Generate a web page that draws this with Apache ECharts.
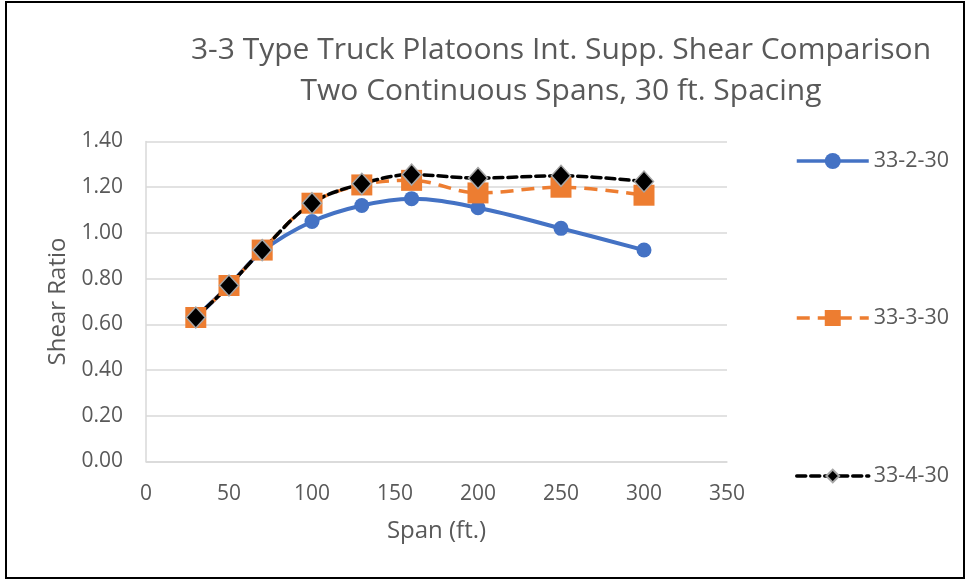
<!DOCTYPE html>
<html>
<head>
<meta charset="utf-8">
<script src="https://cdn.jsdelivr.net/npm/echarts@6/dist/echarts.min.js"></script>
<style>
  html, body { margin: 0; padding: 0; background: #fff; }
  #chart { width: 967px; height: 581px; }
</style>
</head>
<body>
<div id="chart"></div>
<script>
// Span lengths (ft.)
const spans = [30, 50, 70, 100, 130, 160, 200, 250, 300];

// Shear ratios for each platoon configuration
const s33_2_30 = [0.63, 0.77, 0.92, 1.05, 1.12, 1.15, 1.11, 1.02, 0.925];
const s33_3_30 = [0.63, 0.77, 0.925, 1.13, 1.21, 1.23, 1.175, 1.20, 1.165];
const s33_4_30 = [0.63, 0.77, 0.925, 1.13, 1.215, 1.255, 1.24, 1.25, 1.225];

const seriesNames = ['33-2-30', '33-3-30', '33-4-30'];
const titleLines = ['3-3 Type Truck Platoons Int. Supp. Shear Comparison', 'Two Continuous Spans, 30 ft. Spacing'];
const xAxisName = 'Span (ft.)';
const yAxisName = 'Shear Ratio';

const pair = (xs, ys) => xs.map((x, i) => [x, ys[i]]);

const FONT = 'Open Sans';
const GREY = '#595959';

const chart = echarts.init(document.getElementById('chart'), null, { renderer: 'canvas' });

// One legend block per series, stacked down the right-hand side
function legendAt(top, name, itemHeight) {
  return {
    top: top,
    left: 795,
    padding: 0,
    orient: 'vertical',
    itemWidth: 72,
    itemHeight: itemHeight,
    data: [name],
    lineStyle: { width: 3.5 },
    textStyle: { fontFamily: FONT, fontSize: 21.5, color: GREY },
    selectedMode: false
  };
}

chart.setOption({
  backgroundColor: '#fff',
  animation: false,
  title: {
    text: titleLines.join('\n'),
    left: 556,
    top: 25,
    textAlign: 'center',
    textStyle: { fontFamily: FONT, fontSize: 30, fontWeight: 'normal', color: GREY, lineHeight: 41 }
  },
  graphic: [{
    type: 'rect',
    shape: { x: 6, y: 2, width: 958, height: 576 },
    style: { fill: 'none', stroke: '#000', lineWidth: 2 },
    silent: true
  }],
  legend: [
    legendAt(150, seriesNames[0], 20),
    legendAt(307, seriesNames[1], 20),
    legendAt(465, seriesNames[2], 16)
  ],
  grid: { left: 146, top: 141.5, width: 581, height: 320, containLabel: false },
  xAxis: {
    type: 'value',
    min: 0, max: 350, interval: 50,
    name: xAxisName,
    nameLocation: 'middle',
    nameGap: 58,
    nameTextStyle: { fontFamily: FONT, fontSize: 24, color: GREY },
    axisLine: { show: true, lineStyle: { color: '#D9D9D9', width: 1.5 } },
    axisTick: { show: false },
    axisLabel: { fontFamily: FONT, fontSize: 21, color: GREY, margin: 22 },
    splitLine: { show: false }
  },
  yAxis: {
    type: 'value',
    min: 0, max: 1.4, interval: 0.2,
    name: yAxisName,
    nameLocation: 'middle',
    nameGap: 75,
    nameRotate: 90,
    nameTextStyle: { fontFamily: FONT, fontSize: 24, color: GREY },
    axisLine: { show: true, lineStyle: { color: '#D9D9D9', width: 1.5 } },
    axisTick: { show: false },
    axisLabel: { fontFamily: FONT, fontSize: 21, color: GREY, margin: 23, formatter: v => v.toFixed(2) },
    splitLine: { show: true, lineStyle: { color: '#D9D9D9', width: 1.5 } }
  },
  series: [
    {
      name: seriesNames[0],
      type: 'line',
      data: pair(spans, s33_2_30),
      smooth: 0.35,
      symbol: 'circle',
      symbolSize: 15,
      itemStyle: { color: '#4472C4' },
      lineStyle: { color: '#4472C4', width: 4 }
    },
    {
      name: seriesNames[1],
      type: 'line',
      data: pair(spans, s33_3_30),
      smooth: 0.35,
      symbol: 'rect',
      symbolSize: 21,
      itemStyle: { color: '#ED7D31' },
      lineStyle: { color: '#ED7D31', width: 3.5, type: [13, 8] }
    },
    {
      name: seriesNames[2],
      type: 'line',
      data: pair(spans, s33_4_30),
      smooth: 0.35,
      symbol: 'diamond',
      symbolSize: [19, 21],
      itemStyle: { color: '#000', borderColor: '#A6A6A6', borderWidth: 1.5 },
      lineStyle: { color: '#000', width: 3.5, type: [9, 5], cap: 'round' }
    }
  ]
});
</script>
</body>
</html>
